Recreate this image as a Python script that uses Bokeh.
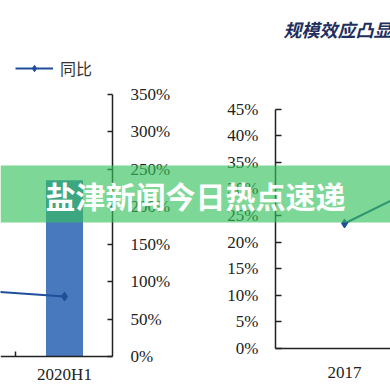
from bokeh.plotting import figure
from bokeh.models import (Range1d, LinearAxis, FixedTicker, NumeralTickFormatter,
                          BoxAnnotation, Label, Legend, LegendItem)
from bokeh.embed import file_html
from bokeh.resources import INLINE

# ---------------- data ----------------
left_categories = ["2019", "2020H1"]
left_yoy = [0.89, 0.80]                 # 同比 line (right % axis)
left_bar_categories = ["2020H1"]
left_bar_values = [23.5]                # 规模 bar (hidden left axis)
left_ticks = [0, 0.5, 1.0, 1.5, 2.0, 2.5, 3.0, 3.5]

right_categories = ["2017", "2018"]
right_yoy = [0.235, 0.362]
right_ticks = [0, 0.05, 0.10, 0.15, 0.20, 0.25, 0.30, 0.35, 0.40, 0.45]

legend_label = "同比"
title_text = "规模效应凸显"
banner_text = "盐津新闻今日热点速递"

# ---------------- layout helpers ----------------
W, H = 390, 390
PX0, PY0 = 0, 0


def xr(anchor_val, anchor_px, ppu):
    return Range1d(anchor_val + (PX0 - anchor_px) / ppu,
                   anchor_val + (PX0 + W - anchor_px) / ppu)


def yr(anchor_val, anchor_px, ppu):
    return Range1d(anchor_val - (PY0 + H - anchor_px) / ppu,
                   anchor_val + (anchor_px - PY0) / ppu)


p = figure(width=W, height=H, output_backend="svg", toolbar_location=None,
           x_range=Range1d(PX0, PX0 + W), y_range=Range1d(PY0 + H, PY0),
           x_axis_type=None, y_axis_type=None, min_border=0,
           outline_line_color=None, background_fill_color="white",
           border_fill_color="white")
p.min_border_left = p.min_border_right = p.min_border_top = p.min_border_bottom = 0

p.extra_x_ranges = {"lx": xr(1, 64, 98), "rx": xr(0, 344, 138)}
p.extra_y_ranges = {"ly": yr(0, 356, 75), "lb": yr(0, 356, 7.5), "ry": yr(0, 348, 532)}

LINE = "#1f4e9a"
AX = "#222222"

left_x = list(range(len(left_categories)))
bar_x = [left_categories.index(c) for c in left_bar_categories]
right_x = list(range(len(right_categories)))

p.vbar(x=bar_x, top=left_bar_values, bottom=0, width=0.378,
       x_range_name="lx", y_range_name="lb", fill_color="#4878be", line_color=None)

l_line = p.line(left_x, left_yoy, x_range_name="lx", y_range_name="ly",
                line_color=LINE, line_width=2)
l_pts = p.scatter(left_x, left_yoy, x_range_name="lx", y_range_name="ly",
                  marker="diamond", size=9, fill_color=LINE, line_color=LINE)

p.line(right_x, right_yoy, x_range_name="rx", y_range_name="ry",
       line_color=LINE, line_width=2)
p.scatter(right_x, right_yoy, x_range_name="rx", y_range_name="ry",
          marker="diamond", size=9, fill_color=LINE, line_color=LINE)


def style(ax, standoff):
    ax.axis_line_color = AX
    ax.axis_line_width = 1.5
    ax.major_tick_line_color = AX
    ax.major_tick_line_width = 1.5
    ax.minor_tick_line_color = AX
    ax.minor_tick_line_width = 1.5
    ax.major_label_text_font = "Liberation Serif"
    ax.major_label_text_font_size = "17px"
    ax.major_label_text_color = AX
    ax.major_label_standoff = standoff


# left chart: right % axis
ax_lr = LinearAxis(x_range_name="lx", y_range_name="ly", fixed_location=1.49,
                   bounds=(0, 3.5), ticker=FixedTicker(ticks=left_ticks),
                   formatter=NumeralTickFormatter(format="0%"),
                   major_tick_in=5, major_tick_out=0, minor_tick_in=0, minor_tick_out=0)
style(ax_lr, 18)
p.add_layout(ax_lr, "right")

# left chart: category axis
ax_lb = LinearAxis(x_range_name="lx", y_range_name="ly", fixed_location=0,
                   bounds=(-0.6, 1.49),
                   ticker=FixedTicker(ticks=left_x, minor_ticks=[i + 0.5 for i in left_x[:-1]]),
                   major_label_overrides={i: c for i, c in enumerate(left_categories)},
                   major_tick_in=0, major_tick_out=0, minor_tick_in=5, minor_tick_out=0)
style(ax_lb, 8)
p.add_layout(ax_lb, "below")

# right chart: left % axis
ax_rl = LinearAxis(x_range_name="rx", y_range_name="ry", fixed_location=-0.5,
                   bounds=(0, 0.45), ticker=FixedTicker(ticks=right_ticks),
                   formatter=NumeralTickFormatter(format="0%"),
                   major_tick_in=6, major_tick_out=0, minor_tick_in=0, minor_tick_out=0)
style(ax_rl, 17)
p.add_layout(ax_rl, "left")

# right chart: category axis
ax_rb = LinearAxis(x_range_name="rx", y_range_name="ry", fixed_location=0,
                   bounds=(-0.5, 1.5),
                   ticker=FixedTicker(ticks=right_x, minor_ticks=[i + 0.5 for i in right_x[:-1]]),
                   major_label_overrides={i: c for i, c in enumerate(right_categories)},
                   major_tick_in=0, major_tick_out=0, minor_tick_in=5, minor_tick_out=0)
style(ax_rb, 18)
p.add_layout(ax_rb, "below")

# legend
legend = Legend(items=[LegendItem(label=legend_label, renderers=[l_line, l_pts])],
                location=(15, 310), glyph_width=38, glyph_height=16, label_height=16,
                label_standoff=7, padding=0, margin=0, border_line_color=None,
                background_fill_alpha=0, label_text_font="Noto Sans CJK SC",
                label_text_font_size="16px", label_text_color="#333333")
p.add_layout(legend)

# section title (top right)
p.add_layout(Label(x=283, y=28, text=title_text, text_align="left", text_baseline="middle",
                   text_font="Noto Sans CJK SC", text_font_style="bold italic",
                   text_font_size="18px", text_color="#1f2f5e"))

# banner overlay
p.add_layout(BoxAnnotation(left=PX0, right=PX0 + W, top=165, bottom=222,
                           fill_color="#34c05a", fill_alpha=0.64, line_color=None,
                           level="annotation"))
p.add_layout(Label(x=195, y=194, text=banner_text, text_align="center", text_baseline="middle",
                   text_font="Noto Sans CJK SC", text_font_style="bold",
                   text_font_size="30px", text_color="white"))

open("out.html", "w").write(file_html(p, INLINE))
